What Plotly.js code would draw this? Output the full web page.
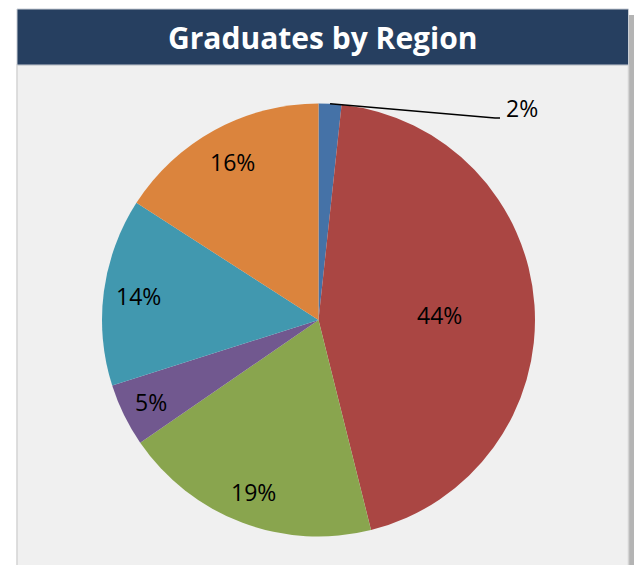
<!DOCTYPE html>
<html>
<head>
<meta charset="utf-8">
<script src="https://cdn.plot.ly/plotly-3.0.1.min.js"></script>
<style>
  html, body { margin: 0; padding: 0; background: #ffffff; }
  #chart { width: 644px; height: 565px; }
</style>
</head>
<body>
<div id="chart"></div>
<script>
// ---- data ----
var chartTitle = 'Graduates by Region';
var regions = ['Region 1', 'Region 2', 'Region 3', 'Region 4', 'Region 5', 'Region 6'];
var shares = [1.7, 44.4, 19.3, 4.7, 14.0, 15.9];
var sliceColors = ['#4572A7', '#AA4643', '#89A54E', '#71588F', '#4198AF', '#DB843D'];

// ---- geometry (pixels) ----
var W = 644, H = 565;
var cx = 318.5, cy = 320, R = 216.5;
var labelRadius = [null, 0.56, 0.85, 0.86, 0.84, 0.83];
var labelShiftY = [0, 3, 0, 0, 0, 0];
function px(x) { return x / W; }
function py(y) { return 1 - y / H; }

var total = shares.reduce(function (a, b) { return a + b; }, 0);
var annotations = [];
var shapes = [];

// panel + title bar
shapes.push({type: 'rect', xref: 'paper', yref: 'paper', x0: px(629), x1: px(634), y0: py(565), y1: py(15),
  fillcolor: '#B4B4B4', line: {width: 0}, layer: 'below'});
shapes.push({type: 'rect', xref: 'paper', yref: 'paper', x0: px(17), x1: px(628.5), y0: py(566), y1: py(65),
  fillcolor: '#F0F0F0', line: {color: '#D4D4D4', width: 1.5}, layer: 'below'});
shapes.push({type: 'rect', xref: 'paper', yref: 'paper', x0: px(17), x1: px(628.5), y0: py(65), y1: py(9),
  fillcolor: '#263F60', line: {color: '#C8CDD4', width: 1}, layer: 'below'});

annotations.push({text: '<b>' + chartTitle + '</b>', xref: 'paper', yref: 'paper', x: px(323), y: py(38),
  showarrow: false, xanchor: 'center', yanchor: 'middle',
  font: {family: '"Open Sans", Lato, sans-serif', size: 30, color: '#ffffff'}});

// labels computed from data (clockwise from 12 o'clock)
var cum = 0;
for (var i = 0; i < shares.length; i++) {
  var frac = shares[i] / total;
  var mid = (cum + frac / 2) * 2 * Math.PI;
  cum += frac;
  var txt = Math.round(frac * 100) + '%';
  if (labelRadius[i] === null) {
    // outside label with leader line
    var ex = cx + R * Math.sin(mid), ey = cy - R * Math.cos(mid);
    var bx = 495, by = 118, tx = 500;
    shapes.push({type: 'path', xref: 'paper', yref: 'paper',
      path: 'M ' + px(ex) + ' ' + py(ey) + ' L ' + px(bx) + ' ' + py(by) + ' L ' + px(tx) + ' ' + py(by),
      line: {color: '#000000', width: 1.5}});
    annotations.push({text: txt, xref: 'paper', yref: 'paper', x: px(504), y: py(108),
      showarrow: false, xanchor: 'left', yanchor: 'middle',
      font: {family: '"Open Sans", sans-serif', size: 23, color: '#000000'}});
  } else {
    var lx = cx + R * labelRadius[i] * Math.sin(mid);
    var ly = cy - R * labelRadius[i] * Math.cos(mid) + labelShiftY[i];
    annotations.push({text: txt, xref: 'paper', yref: 'paper', x: px(lx), y: py(ly),
      showarrow: false, xanchor: 'center', yanchor: 'middle',
      font: {family: '"Open Sans", sans-serif', size: 23, color: '#000000'}});
  }
}

var trace = {
  type: 'pie',
  labels: regions,
  values: shares,
  sort: false,
  direction: 'clockwise',
  rotation: 0,
  marker: {colors: sliceColors, line: {width: 0}},
  textinfo: 'none',
  hoverinfo: 'label+percent',
  showlegend: false,
  domain: {x: [px(cx - R), px(cx + R)], y: [py(cy + R), py(cy - R)]}
};

var layout = {
  width: W, height: H,
  margin: {l: 0, r: 0, t: 0, b: 0},
  paper_bgcolor: '#ffffff',
  showlegend: false,
  shapes: shapes,
  annotations: annotations
};

Plotly.newPlot('chart', [trace], layout, {displayModeBar: false, staticPlot: true});
</script>
</body>
</html>
